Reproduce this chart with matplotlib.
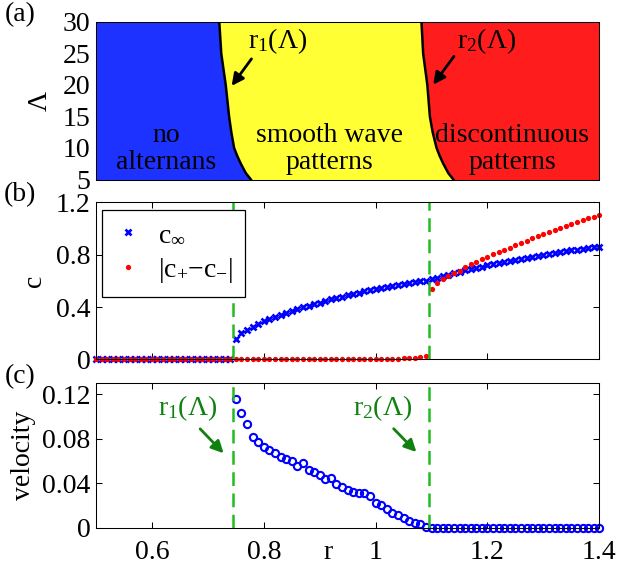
import numpy as np
import matplotlib
matplotlib.use('Agg')
import matplotlib.pyplot as plt

plt.rcParams['font.family'] = ['Liberation Serif', 'DejaVu Serif']
plt.rcParams['mathtext.fontset'] = 'custom'
plt.rcParams['mathtext.rm'] = 'Liberation Serif'
plt.rcParams['mathtext.it'] = 'Liberation Serif:italic'
plt.rcParams['font.size'] = 20

# ---- data ----
# (a) phase boundaries r1(Lambda), r2(Lambda)
lam_levels = [5, 6, 7.5, 8.75, 10, 12.5, 15, 20, 25, 30]
r1_curve = [0.777, 0.768, 0.759, 0.7525, 0.747, 0.742, 0.738, 0.732, 0.724, 0.7205]
r2_curve = [1.139, 1.130, 1.121, 1.1145, 1.109, 1.102, 1.097, 1.0925, 1.085, 1.082]

# r grid of the simulations (step 0.01)
r_grid = np.round(np.arange(0.50, 1.405, 0.01), 2)

# (b) c_inf (blue x) and |c+ - c-| (red dots)
c_inf = [0.0] * 25 + [
    0.153, 0.199, 0.224, 0.249, 0.271, 0.291, 0.309, 0.326, 0.342, 0.357,
    0.371, 0.384, 0.397, 0.410, 0.422, 0.434, 0.446, 0.458, 0.469, 0.480,
    0.491, 0.501, 0.511, 0.521, 0.530, 0.539, 0.548, 0.556, 0.564, 0.571,
    0.578, 0.585, 0.591, 0.597, 0.602,
    0.612, 0.625, 0.637, 0.648, 0.660, 0.670, 0.681, 0.691, 0.701, 0.710,
    0.719, 0.728, 0.737, 0.745, 0.754, 0.762, 0.770, 0.778, 0.786, 0.793,
    0.800, 0.807, 0.814, 0.821, 0.827, 0.833, 0.839, 0.845, 0.851, 0.856,
    0.862]
c_jump = [0.0] * 52 + [0.003, 0.004, 0.005, 0.007, 0.009, 0.012, 0.017, 0.025] + [
    0.535, 0.581, 0.612, 0.638, 0.658, 0.678, 0.707, 0.727, 0.745, 0.765,
    0.786, 0.804, 0.819, 0.837, 0.855, 0.875, 0.893, 0.908, 0.926, 0.941,
    0.959, 0.974, 0.990, 1.005, 1.020, 1.035, 1.048, 1.063, 1.079, 1.091,
    1.107]

# (c) velocity, defined from r = 0.75 on
vel_r = r_grid[25:]
velocity = [
    0.116, 0.103, 0.093, 0.082, 0.077, 0.073, 0.070, 0.067, 0.064, 0.062,
    0.060, 0.056, 0.058, 0.052, 0.050, 0.047, 0.044, 0.045, 0.039, 0.037,
    0.034, 0.032, 0.031, 0.031, 0.0285, 0.022, 0.020, 0.0165, 0.0135, 0.011,
    0.0085, 0.006, 0.0045, 0.003, 0.001] + [0.0] * 31

r1_mark = 0.745
r2_mark = 1.095

xticks = [0.6, 0.8, 1.0, 1.2, 1.4]
xticklabels = ['0.6', '0.8', '1', '1.2', '1.4']
lam_ticks = [5, 10, 15, 20, 25, 30]
c_ticks = [0, 0.4, 0.8, 1.2]
c_ticklabels = ['0', '0.4', '0.8', '1.2']
v_ticks = [0, 0.04, 0.08, 0.12]
v_ticklabels = ['0', '0.04', '0.08', '0.12']

green_dash = '#22bb22'
green_dark = '#108010'

fig = plt.figure(figsize=(6.18, 5.65), dpi=100)
L, W = 0.1553, 0.8145
ax_a = fig.add_axes([L, 0.6823, W, 0.2788])
ax_b = fig.add_axes([L, 0.3641, W, 0.2775])
ax_c = fig.add_axes([L, 0.0660, W, 0.2556])


def style(ax):
    ax.tick_params(direction='in', top=True, right=True, length=4.5, width=0.75, pad=4)
    for s in ax.spines.values():
        s.set_linewidth(0.75)
    ax.set_xlim(0.5, 1.4)
    ax.set_xticks(xticks)


# ---------- (a) ----------
style(ax_a)
ax_a.fill_betweenx(lam_levels, 0.5, r1_curve, color='#1e32ff', lw=0)
ax_a.fill_betweenx(lam_levels, r1_curve, r2_curve, color='#ffff33', lw=0)
ax_a.fill_betweenx(lam_levels, r2_curve, 1.4, color='#ff1c1c', lw=0)
ax_a.plot(r1_curve, lam_levels, 'k', lw=1.8)
ax_a.plot(r2_curve, lam_levels, 'k', lw=1.8)
ax_a.set_ylim(5, 30)
ax_a.set_yticks(lam_ticks)
ax_a.tick_params(length=0, labelbottom=False)
ax_a.set_ylabel('Λ')
ax_a.yaxis.set_label_coords(-0.085, 0.5)
ax_a.text(0.625, 9.8, 'no\nalternans', ha='center', va='center', linespacing=1.1)
ax_a.text(0.917, 9.8, 'smooth wave\npatterns', ha='center', va='center', linespacing=1.1)
ax_a.text(1.244, 9.8, 'discontinuous\npatterns', ha='center', va='center', linespacing=1.1)
ax_a.text(0.772, 25.9, r'r$_1$(Λ)', ha='left', va='baseline')
ax_a.text(1.145, 25.9, r'r$_2$(Λ)', ha='left', va='baseline')
ax_a.annotate('', xy=(0.7396, 19.5), xytext=(0.781, 24.5),
              arrowprops=dict(arrowstyle='-|>', lw=2, color='k', mutation_scale=18))
ax_a.annotate('', xy=(1.100, 19.7), xytext=(1.143, 24.9),
              arrowprops=dict(arrowstyle='-|>', lw=2, color='k', mutation_scale=18))

# ---------- (b) ----------
style(ax_b)
ax_b.plot(r_grid, c_inf, 'x', color='#0000ff', ms=5, mew=1.9, clip_on=False,
          label=r'c$_\infty$')
ax_b.plot(r_grid, c_jump, 'o', color='#ff0000', ms=3.8, mew=0, clip_on=False,
          label=r'$|\mathrm{c}_{+}{-}\mathrm{c}_{-}|$')
for rv in (r1_mark, r2_mark):
    ax_b.axvline(rv, color=green_dash, lw=1.8, dashes=(5.5, 3))
ax_b.set_ylim(0, 1.2)
ax_b.set_yticks(c_ticks)
ax_b.set_yticklabels(c_ticklabels)
ax_b.tick_params(labelbottom=False)
ax_b.set_ylabel('c')
ax_b.yaxis.set_label_coords(-0.097, 0.5)
leg = ax_b.legend(loc='upper left', bbox_to_anchor=(0.012, 0.955), borderaxespad=0,
                  fancybox=False, edgecolor='k', framealpha=1, numpoints=1,
                  handlelength=1.0, handletextpad=0.55, borderpad=0.45,
                  labelspacing=0.3)
leg.get_frame().set_linewidth(0.9)

# ---------- (c) ----------
style(ax_c)
ax_c.plot(vel_r, velocity, 'o', mfc='none', mec='#0000ff', ms=5.2, mew=1.5,
          clip_on=False)
for rv in (r1_mark, r2_mark):
    ax_c.axvline(rv, color=green_dash, lw=1.8, dashes=(5.5, 3))
ax_c.set_ylim(0, 0.13)
ax_c.set_yticks(v_ticks)
ax_c.set_yticklabels(v_ticklabels)
ax_c.set_xticklabels(xticklabels)
ax_c.tick_params(axis='x', pad=9)
ax_c.set_ylabel('velocity')
ax_c.yaxis.set_label_coords(-0.119, 0.5)
ax_c.set_xlabel('r')
ax_c.xaxis.set_label_coords(0.461, -0.085)
ax_c.text(0.611, 0.101, r'r$_1$(Λ)', color=green_dark, ha='left', va='baseline')
ax_c.text(0.960, 0.101, r'r$_2$(Λ)', color=green_dark, ha='left', va='baseline')
ax_c.annotate('', xy=(0.7316, 0.0652), xytext=(0.6828, 0.0908),
              arrowprops=dict(arrowstyle='-|>', lw=2, color=green_dark, mutation_scale=18))
ax_c.annotate('', xy=(1.0764, 0.0663), xytext=(1.0288, 0.0909),
              arrowprops=dict(arrowstyle='-|>', lw=2, color=green_dark, mutation_scale=18))

# panel letters
fig.text(20 / 618, 1 - 15 / 565, '(a)', ha='center', va='center')
fig.text(20 / 618, 1 - 195 / 565, '(b)', ha='center', va='center')
fig.text(20 / 618, 1 - 377 / 565, '(c)', ha='center', va='center')

fig.savefig('out.png', dpi=100)
